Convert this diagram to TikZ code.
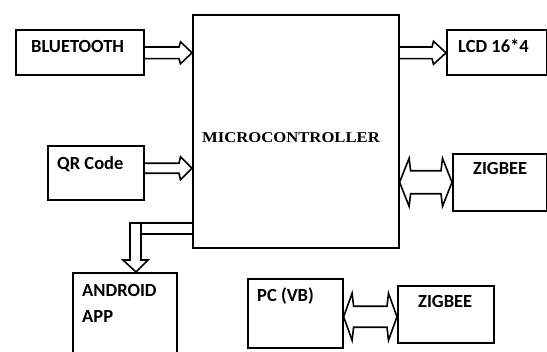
\documentclass[tikz,border=0pt]{standalone}
\usepackage{fontspec}
\setmainfont{Carlito}
\newfontfamily\mcfont{Liberation Serif}
\usetikzlibrary{calc}
\newcommand\arrR[5]{% #1 start, #2 tip, #3 half shaft, #4 half head, #5 head length
  \draw[conn] ($(#1)+(0,-#3)$) -- ($(#2)+(-#5,-#3)$) -- ($(#2)+(-#5+1.5,-#4)$) -- (#2)
    -- ($(#2)+(-#5+1.5,#4)$) -- ($(#2)+(-#5,#3)$) -- ($(#1)+(0,#3)$);}
\newcommand\arrLR[5]{% #1 left tip, #2 right tip, #3 half shaft, #4 half head, #5 head length
  \draw[conn] (#1) -- ($(#1)+(#5-1.5,-#4)$) -- ($(#1)+(#5,-#3)$) -- ($(#2)+(-#5,-#3)$)
    -- ($(#2)+(-#5+1.5,-#4)$) -- (#2) -- ($(#2)+(-#5+1.5,#4)$) -- ($(#2)+(-#5,#3)$)
    -- ($(#1)+(#5,#3)$) -- ($(#1)+(#5-1.5,#4)$) -- cycle;}
\begin{document}
\begin{tikzpicture}[x=1pt,y=-1pt,
  box/.style={draw, line width=1.6pt, inner sep=0pt, anchor=north west},
  lbl/.style={font=\fontsize{18.5}{20}\selectfont\bfseries, inner sep=0pt, anchor=base west},
  conn/.style={line width=1.6pt, line join=miter}]
\useasboundingbox (0,0) rectangle (547,352);
\clip (0,0) rectangle (547,352);
% boxes
\node[box, minimum width=206pt, minimum height=233pt] (mc) at (192,14) {};
\node[box, minimum width=128pt, minimum height=45pt] (bt) at (15,29) {};
\node[box, minimum width=96pt, minimum height=54pt] (qr) at (47,145) {};
\node[box, minimum width=100pt, minimum height=45pt] (lcd) at (446,29) {};
\node[box, minimum width=94pt, minimum height=57pt] (zg1) at (452,153) {};
\node[box, minimum width=104pt, minimum height=95pt] (and) at (72,272) {};
\node[box, minimum width=95pt, minimum height=69pt] (pc) at (247,278) {};
\node[box, minimum width=96pt, minimum height=57pt] (zg2) at (397,285) {};
% labels
\node[inner sep=0pt, anchor=base west, font=\mcfont\fontsize{15}{16}\selectfont\bfseries] (mct) at (202,143) {\scalebox{1.11}[1]{MICROCONTROLLER}};
\node[lbl] (btt) at (31,53) {BLUETOOTH};
\node[lbl] (qrt) at (57,170) {QR Code};
\node[lbl] (lcdt) at (458,53) {LCD 16*4};
\node[lbl] (zg1t) at (473,175) {ZIGBEE};
\node[lbl] (andt1) at (82,297) {ANDROID};
\node[lbl] (andt2) at (82,323) {APP};
\node[lbl] (pct) at (257,302) {PC (VB)};
\node[lbl] (zg2t) at (418,308) {ZIGBEE};
% connectors
\coordinate (a1s) at ($(bt.east)+(0,0.5)$);
\coordinate (a1t) at (mc.west |- a1s);
\arrR{a1s}{a1t}{5.8}{11}{13}
\coordinate (a2s) at ($(qr.east)+(0,-4.5)$);
\coordinate (a2t) at (mc.west |- a2s);
\arrR{a2s}{a2t}{5}{11.5}{13}
\coordinate (a3s) at ($(mc.east |- lcd.west)+(0,0.5)$);
\coordinate (a3t) at (lcd.west |- a3s);
\arrR{a3s}{a3t}{5.8}{11.5}{14}
\coordinate (a4l) at (mc.east |- zg1.west);
\coordinate (a4r) at (zg1.west);
\arrLR{a4l}{a4r}{11.5}{24}{11}
\coordinate (a5l) at ($(pc.east |- zg2.west)+(0,2.5)$);
\coordinate (a5r) at ($(zg2.west)+(0,2.5)$);
\arrLR{a5l}{a5r}{10.5}{23.5}{10}
% android arrow
\coordinate (a6t) at ($(and.north west)+(64,0)$);
\draw[conn] (mc.west |- 0,223) -| (130,260) -- (123,260) -- (a6t) -- (148,260) -- (141,260) |- (mc.west |- 0,234);
\draw[conn] (141,223) -- (141,234);
\end{tikzpicture}
\end{document}
